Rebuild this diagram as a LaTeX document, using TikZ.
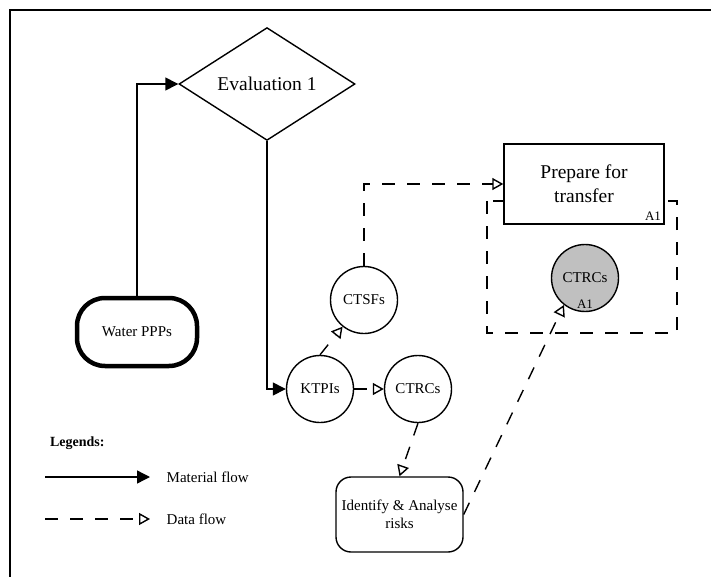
\documentclass[tikz,border=0pt]{standalone}
\usepackage{fontspec}
\setmainfont{Liberation Serif}
\usetikzlibrary{shapes.geometric,arrows.meta}
\definecolor{shadegray}{RGB}{192,192,192}
\begin{document}
\begin{tikzpicture}[x=1pt,y=-1pt,
  line width=1.4pt,
  bigtext/.style={font=\fontsize{19.5}{24}\selectfont},
  smalltext/.style={font=\fontsize{15}{17.5}\selectfont},
  tagtext/.style={font=\fontsize{13}{15}\selectfont,inner sep=0pt},
  matflow/.style={-{Triangle[length=13pt,width=13pt]}},
  dashline/.style={dash pattern=on 13pt off 12pt},
  dataflow/.style={dashline,-{Triangle[open,length=11pt,width=12pt]}},
  bubble/.style={circle,draw,minimum size=67pt,inner sep=0pt,smalltext},
]
\useasboundingbox (0,0) rectangle (711,577);
% outer frame
\draw (10,600) -- (10,10) -- (720,10);

% group around the transfer step
\draw[dashline] (487,201) rectangle (677,333);

% process nodes
\node[draw,diamond,minimum width=176pt,minimum height=107pt,inner sep=0pt,bigtext]
  (eval) at (267,84) {Evaluation 1};
\node[draw,line width=4.5pt,rounded corners=28pt,minimum width=120pt,minimum height=68pt,smalltext]
  (water) at (137,332) {Water PPPs};
\node[draw,fill=white,minimum width=160pt,minimum height=80pt,align=center,bigtext]
  (prep) at (584,184) {Prepare for\\transfer};
\node[tagtext] (prepid) at (653,216) {A1};
\node[draw,rounded corners=15pt,minimum width=127pt,minimum height=75pt,align=center,smalltext]
  (ident) at (399.5,514.5) {Identify \& Analyse\\risks};

\node[bubble] (ktpi) at (320,389) {KTPIs};
\node[bubble] (ctrc) at (418,389) {CTRCs};
\node[bubble] (ctsf) at (364,300) {CTSFs};
\node[bubble,fill=shadegray] (ctrcg) at (585,278) {CTRCs};
\node[tagtext] (ctrcgid) at (585,304) {A1};

% material flow
\draw[matflow] (water.north) |- (eval.west);
\draw[matflow] (eval.south) |- (ktpi.west);

% data flow
\draw[dataflow] (ktpi.north) -- (ctsf);
\draw[dataflow] (ktpi.east) -- (ctrc.west);
\draw[dataflow] (ctsf.north) |- (prep.west);
\draw[dataflow] (ctrc.south) -- (ident.north);
\draw[dataflow] (ident.east) -- (ctrcg.232);

% legend
\node[anchor=west,font=\fontsize{14}{16}\selectfont\bfseries] (legtitle) at (46,443) {Legends:};
\coordinate (m1) at (45,477);
\coordinate (m2) at (150,477);
\coordinate (d1) at (45,519);
\coordinate (d2) at (150,519);
\draw[matflow] (m1) -- (m2);
\draw[dataflow] (d1) -- (d2);
\node[anchor=west,smalltext,inner sep=0pt] (mlabel) at (166,477) {Material flow};
\node[anchor=west,smalltext,inner sep=0pt] (dlabel) at (166,519) {Data flow};
\end{tikzpicture}
\end{document}
